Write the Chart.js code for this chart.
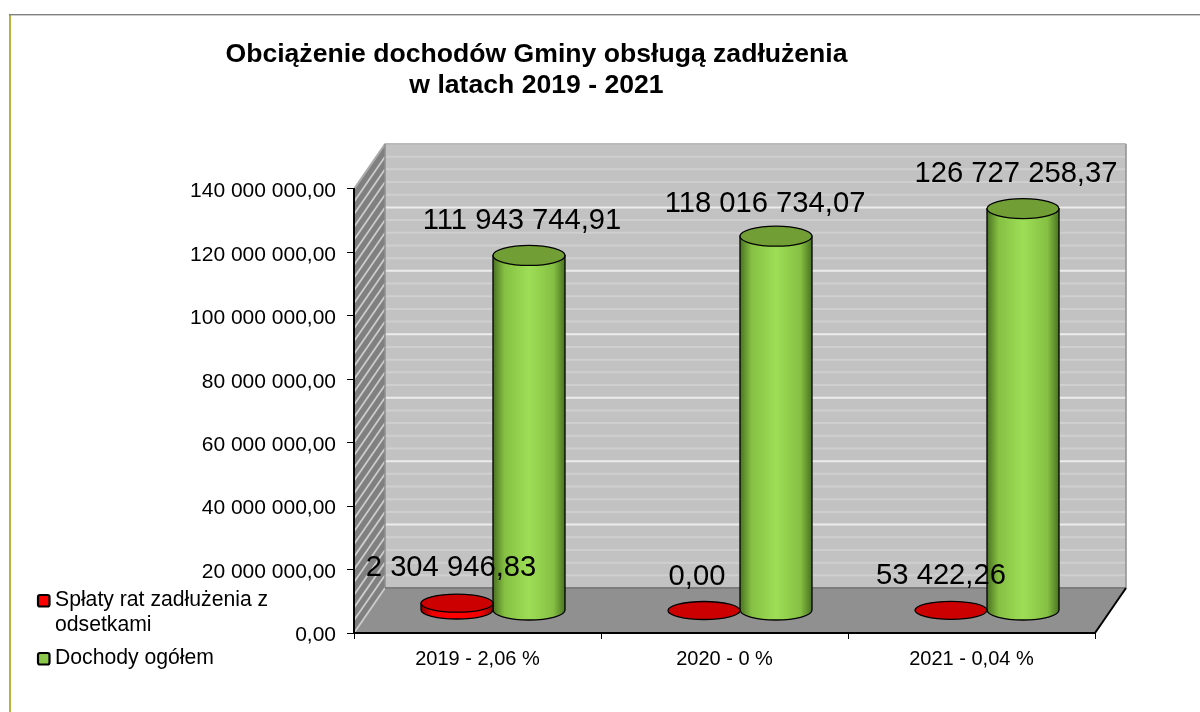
<!DOCTYPE html>
<html>
<head>
<meta charset="utf-8">
<style>html,body{margin:0;padding:0;background:#fff}canvas{display:block}</style>
<script src="https://cdn.jsdelivr.net/npm/chart.js@4/dist/chart.umd.min.js"></script>
</head>
<body>
<canvas id="c" width="1200" height="712"></canvas>
<script>
const categories = ['2019 - 2,06 %', '2020 - 0 %', '2021 - 0,04 %'];
const repaymentValues = [2304946.83, 0, 53422.26];
const incomeValues = [111943744.91, 118016734.07, 126727258.37];
const repaymentLabels = ['2 304 946,83', '0,00', '53 422,26'];
const incomeLabels = ['111 943 744,91', '118 016 734,07', '126 727 258,37'];
const yTickLabels = ['0,00', '20 000 000,00', '40 000 000,00', '60 000 000,00', '80 000 000,00', '100 000 000,00', '120 000 000,00', '140 000 000,00'];
const titleLines = ['Obciążenie dochodów Gminy obsługą zadłużenia', 'w latach 2019 - 2021'];
const seriesNames = ['Spłaty rat zadłużenia z odsetkami', 'Dochody ogółem'];
const legendLines = [['Spłaty rat zadłużenia z', 'odsetkami'], ['Dochody ogółem']];

const FONT = '"Liberation Sans", Arial, sans-serif';
const DX = 31, DY = -45;      // chart depth
const LABEL_NUDGE = [[-6, -27], [-7, -26], [-10, -26]];
const INCOME_NUDGE = [[-7, -26], [-11, -24], [-7, -27]];

const skin = [
  { edge: '#8a0000', mid: '#f00000', light: '#ff0000', top: '#cc0000', ry: 9 },
  { edge: '#4a7221', mid: '#85c043', light: '#9ede56', top: '#719f36', ry: 10 }
];

function drawCylinder(ctx, el, s) {
  const { x, y, base, width } = el.getProps(['x', 'y', 'base', 'width'], true);
  const cx = x + DX / 2, top = y + DY / 2, bot = base + DY / 2, rx = width / 2, ry = s.ry;
  ctx.save();
  ctx.lineWidth = 1.3;
  ctx.strokeStyle = '#000';
  if (bot - top > 0.5) {
    const g = ctx.createLinearGradient(cx - rx, 0, cx + rx, 0);
    g.addColorStop(0, s.edge);
    g.addColorStop(0.16, s.mid);
    g.addColorStop(0.5, s.light);
    g.addColorStop(0.84, s.mid);
    g.addColorStop(1, s.edge);
    ctx.beginPath();
    ctx.moveTo(cx - rx, top);
    ctx.lineTo(cx - rx, bot);
    ctx.ellipse(cx, bot, rx, ry, 0, Math.PI, 0, true);
    ctx.lineTo(cx + rx, top);
    ctx.closePath();
    ctx.fillStyle = g;
    ctx.fill();
    ctx.stroke();
  }
  ctx.beginPath();
  ctx.ellipse(cx, top, rx, ry, 0, 0, Math.PI * 2);
  ctx.fillStyle = s.top;
  ctx.fill();
  ctx.stroke();
  ctx.restore();
}

const scene3d = {
  id: 'scene3d',
  afterLayout(chart) {
    const center = 536.5;
    chart.titleBlock.left = center - 500;
    chart.titleBlock.right = center + 500;
  },
  beforeDraw(chart) {
    const { ctx, chartArea: a, scales: { y } } = chart;
    ctx.save();
    ctx.fillStyle = '#fff';
    ctx.fillRect(0, 0, chart.width, chart.height);

    // frame of the picture
    ctx.fillStyle = '#b4b43c';
    ctx.fillRect(9, 14, 2, 698);
    ctx.fillStyle = '#808080';
    ctx.fillRect(9, 14, 1191, 1.4);

    const bx0 = a.left + DX, bx1 = a.right + DX, by0 = a.top + DY, by1 = a.bottom + DY;

    // back wall
    ctx.fillStyle = '#c2c2c2';
    ctx.fillRect(bx0, by0, bx1 - bx0, by1 - by0);

    // side wall
    ctx.beginPath();
    ctx.moveTo(a.left, a.top); ctx.lineTo(bx0, by0); ctx.lineTo(bx0, by1); ctx.lineTo(a.left, a.bottom);
    ctx.closePath();
    ctx.fillStyle = '#808080';
    ctx.fill();

    // floor
    ctx.beginPath();
    ctx.moveTo(a.left, a.bottom); ctx.lineTo(a.right, a.bottom); ctx.lineTo(bx1, by1); ctx.lineTo(bx0, by1);
    ctx.closePath();
    ctx.fillStyle = '#909090';
    ctx.fill();

    // minor + major gridlines on walls
    const minor = 4000000, major = 20000000;
    for (let v = 0; v <= y.max; v += minor) {
      const py = y.getPixelForValue(v);
      const isMajor = v % major === 0;
      ctx.strokeStyle = isMajor ? '#ececec' : '#cfcfcf';
      ctx.lineWidth = 2;
      if (v > 0) {
        ctx.beginPath();
        ctx.moveTo(bx0, py + DY); ctx.lineTo(bx1, py + DY);
        ctx.stroke();
      }
      ctx.strokeStyle = '#cccccc';
      ctx.lineWidth = 1.8;
      ctx.beginPath();
      ctx.moveTo(a.left, py); ctx.lineTo(bx0, py + DY);
      ctx.stroke();
    }

    // wall edges
    ctx.strokeStyle = '#a8a8a8'; ctx.lineWidth = 1.5;
    ctx.beginPath(); ctx.moveTo(a.left, a.top); ctx.lineTo(bx0, by0); ctx.lineTo(bx1, by0); ctx.stroke();
    ctx.strokeStyle = '#8f8f8f'; ctx.lineWidth = 1.5;
    ctx.beginPath(); ctx.moveTo(bx0, by0); ctx.lineTo(bx0, by1); ctx.stroke();
    ctx.beginPath(); ctx.moveTo(bx1, by0); ctx.lineTo(bx1, by1); ctx.stroke();
    ctx.strokeStyle = '#7d7d7d'; ctx.lineWidth = 2;
    ctx.beginPath(); ctx.moveTo(bx0, by1); ctx.lineTo(bx1, by1); ctx.stroke();

    // front right floor edge
    ctx.strokeStyle = '#000'; ctx.lineWidth = 2;
    ctx.beginPath(); ctx.moveTo(a.right, a.bottom); ctx.lineTo(bx1, by1); ctx.stroke();
    ctx.restore();
  },
  beforeDatasetDraw(chart, args) {
    args.meta.data.forEach(el => drawCylinder(chart.ctx, el, skin[args.index]));
    return false;
  },
  afterDatasetsDraw(chart) {
    const ctx = chart.ctx;
    ctx.save();
    ctx.fillStyle = '#000';
    ctx.textAlign = 'center';
    ctx.textBaseline = 'alphabetic';
    ctx.font = '29.2px ' + FONT;
    [[repaymentLabels, LABEL_NUDGE], [incomeLabels, INCOME_NUDGE]].forEach(([labels, nudge], d) => {
      chart.getDatasetMeta(d).data.forEach((el, i) => {
        const p = el.getProps(['x', 'y'], true);
        ctx.fillText(labels[i], p.x + DX / 2 + nudge[i][0], p.y + DY / 2 + nudge[i][1]);
      });
    });

    // legend
    const rows = [
      { box: 595, lines: [606, 631], fill: '#ff0000' },
      { box: 653, lines: [664], fill: '#8cc84b' }
    ];
    ctx.textAlign = 'left';
    ctx.font = '21.2px ' + FONT;
    rows.forEach((r, i) => {
      ctx.beginPath();
      ctx.roundRect(38, r.box, 11.5, 11.5, 2);
      ctx.fillStyle = r.fill;
      ctx.fill();
      ctx.lineWidth = 2.2;
      ctx.strokeStyle = '#000';
      ctx.stroke();
      ctx.fillStyle = '#000';
      legendLines[i].forEach((t, k) => ctx.fillText(t, 55, r.lines[k]));
    });
    ctx.restore();
  }
};

new Chart(document.getElementById('c'), {
  type: 'bar',
  plugins: [scene3d],
  data: {
    labels: categories,
    datasets: [
      { label: seriesNames[0], data: repaymentValues, backgroundColor: '#ff0000' },
      { label: seriesNames[1], data: incomeValues, backgroundColor: '#8cc84b' }
    ]
  },
  options: {
    responsive: false,
    animation: false,
    layout: { padding: { left: 0, right: 105, top: 0, bottom: 0 } },
    datasets: { bar: { categoryPercentage: 0.583, barPercentage: 1 } },
    plugins: {
      legend: { display: false },
      tooltip: { enabled: false },
      title: {
        display: true,
        text: titleLines,
        color: '#000',
        font: { family: FONT, size: 26.6, weight: 'bold', lineHeight: 1.165 },
        padding: { top: 39, bottom: 88 }
      }
    },
    scales: {
      x: {
        afterFit(s) { s.height = 79; },
        grid: { drawOnChartArea: false, tickLength: 6, color: '#000', offset: true },
        border: { color: '#000', width: 2 },
        ticks: { color: '#000', font: { family: FONT, size: 20 }, padding: 8, maxRotation: 0 }
      },
      y: {
        min: 0,
        max: 140000000,
        afterFit(s) { s.width = 354; },
        grid: { drawOnChartArea: false, tickLength: 7, color: '#000' },
        border: { color: '#000', width: 2 },
        ticks: {
          stepSize: 20000000,
          color: '#000',
          font: { family: FONT, size: 21 },
          padding: 11,
          labelOffset: 2.5,
          callback: (v, i) => yTickLabels[i]
        }
      }
    }
  }
});
</script>
</body>
</html>
